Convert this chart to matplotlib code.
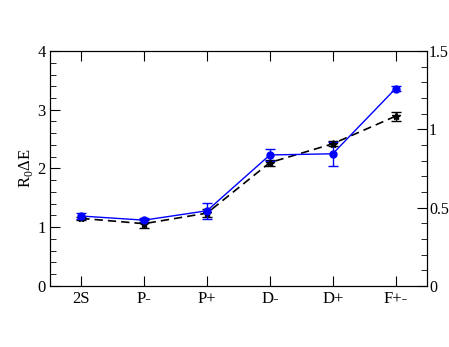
import matplotlib
matplotlib.use("Agg")
import matplotlib.pyplot as plt
from matplotlib.ticker import MultipleLocator

plt.rcParams['font.family'] = ['Liberation Serif', 'DejaVu Serif']
plt.rcParams['mathtext.fontset'] = 'custom'
plt.rcParams['mathtext.rm'] = 'Liberation Serif'

labels = ['2S', 'P-', 'P+', 'D-', 'D+', 'F+-']
blue_y = [1.19, 1.12, 1.28, 2.23, 2.25, 3.36]
blue_err = [0.05, 0.04, 0.14, 0.10, 0.20, 0.04]
black_y = [1.15, 1.06, 1.24, 2.10, 2.42, 2.89]
black_err = [0.03, 0.07, 0.07, 0.05, 0.04, 0.08]

fig = plt.figure(figsize=(4.49, 3.47), dpi=100)
ax = fig.add_axes([0.111, 0.176, 0.84, 0.677])
x = list(range(len(labels)))

ax.errorbar(x, black_y, yerr=black_err, color='black', ls='--', lw=1.2,
            marker='*', ms=6, capsize=3.5, elinewidth=1, dashes=(5, 3))
ax.errorbar(x, blue_y, yerr=blue_err, color='blue', ls='-', lw=1,
            marker='o', ms=5, capsize=3.5, elinewidth=1)

ax.set_xlim(-0.5, 5.5)
ax.set_ylim(0, 4)
ax.set_xticks(x)
ax.set_xticklabels(labels)
ax.yaxis.set_major_locator(MultipleLocator(1))
ax.yaxis.set_minor_locator(MultipleLocator(0.2))
ax.tick_params(axis='both', which='both', direction='in', labelsize=12)
ax.tick_params(axis='x', top=True, length=7)
ax.tick_params(axis='y', which='major', length=7, pad=3)
ax.tick_params(axis='y', which='minor', length=4)
ax.set_ylabel(r'R$_0$$\Delta$E', fontsize=12, labelpad=2)

ax2 = ax.twinx()
ax2.set_ylim(0, 1.5)
ax2.set_yticks([0, 0.5, 1, 1.5])
ax2.set_yticklabels(['0', '0.5', '1', '1.5'])
ax2.yaxis.set_minor_locator(MultipleLocator(0.1))
ax2.tick_params(axis='y', which='both', direction='in', labelsize=11.5)
ax2.tick_params(axis='y', which='major', length=7, pad=1.5)
ax2.tick_params(axis='y', which='minor', length=4)

fig.savefig('out.png', dpi=100)
